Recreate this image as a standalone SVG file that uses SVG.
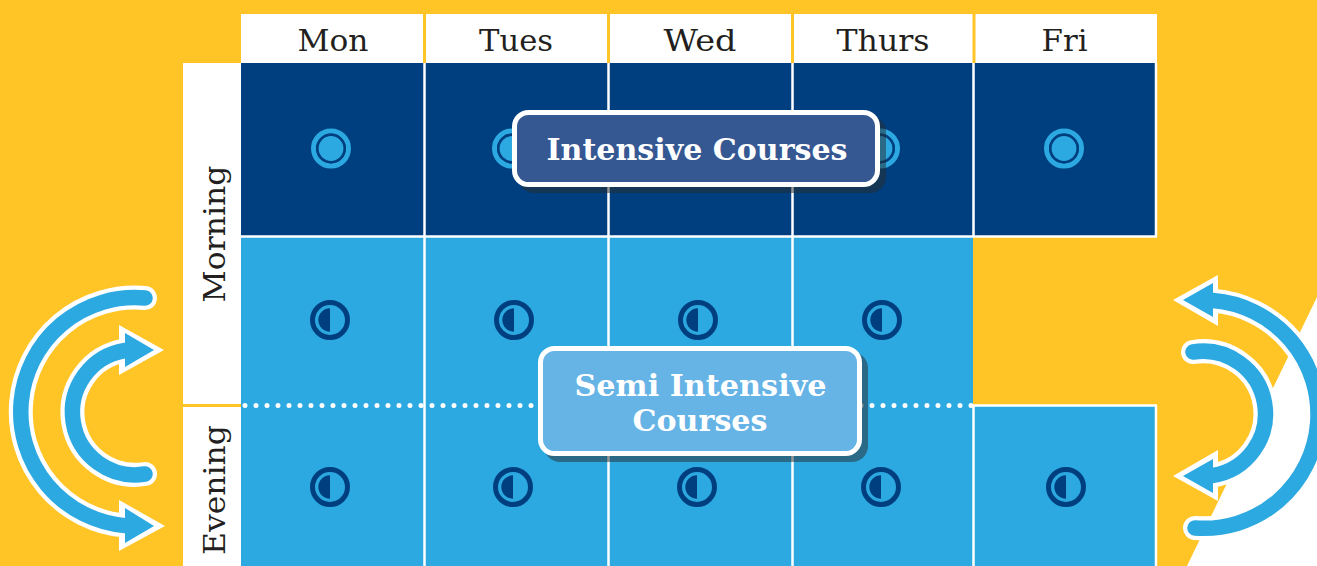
<svg xmlns="http://www.w3.org/2000/svg" width="1317" height="566" viewBox="0 0 1317 566">
<style>
.hd{font:400 30px "DejaVu Serif","Liberation Serif",serif;fill:#231f20;text-anchor:middle}
.lb{font:700 30px "DejaVu Serif","Liberation Serif",serif;fill:#fff;text-anchor:middle}
.dk{fill:#003f7f}.lt{fill:#2ca9e1}
.gl{stroke:#fff;stroke-width:2.5;fill:none}
.yl{stroke:#ffc425;stroke-width:3;fill:none}
.au{fill:none;stroke:#fff;stroke-width:24;stroke-linecap:round}
.ab{fill:none;stroke:#2ca9e1;stroke-width:15.500;stroke-linecap:round}
.hu{fill:#fff}
.hb{fill:#2ca9e1}
.sh{fill:#2a2c2c;fill-opacity:.5}
</style>
<defs>
<g id="full"><circle r="17.500" fill="none" stroke="#2ca9e1" stroke-width="5"/><circle r="13.700" fill="none" stroke="#003f7f" stroke-width="2.600"/><circle r="12.400" fill="#2ca9e1"/></g>
<g id="half"><circle r="17.500" fill="none" stroke="#003f7f" stroke-width="5"/><path d="M0-11.700A11.700 11.700 0 0 0 0 11.700Z" fill="#003f7f"/></g>
</defs>
<rect width="1317" height="566" fill="#ffc425"/>
<polygon points="1317,297 1187,566 1317,566" fill="#fff"/>
<g id="grid">
<rect x="241" y="14" width="916" height="49" fill="#fff"/>
<rect x="183" y="63" width="58" height="503" fill="#fff"/>
<rect x="241" y="63" width="915" height="173" class="dk"/>
<rect x="241" y="236" width="732" height="330" class="lt"/>
<rect x="973" y="405" width="183" height="161" class="lt"/>
<path class="yl" d="M424.500 14V63M608.500 14V63M792.500 14V63M974 14V63M183 405.500H241"/>
<path class="gl" d="M424.500 63V566M608.500 63V566M792.500 63V566M973.500 63V236M973.500 405V566M241 236.500H1157M973 405.500H1157M1156 63V237M1156 405V566"/>
<path d="M245 405.500H972" fill="none" stroke="#fff" stroke-width="5" stroke-linecap="round" stroke-dasharray="0 11"/>
</g>
<g id="headers">
<text class="hd" x="333" y="51" textLength="71" lengthAdjust="spacingAndGlyphs">Mon</text>
<text class="hd" x="516" y="51" textLength="74" lengthAdjust="spacingAndGlyphs">Tues</text>
<text class="hd" x="700" y="51" textLength="73" lengthAdjust="spacingAndGlyphs">Wed</text>
<text class="hd" x="883" y="51" textLength="93" lengthAdjust="spacingAndGlyphs">Thurs</text>
<text class="hd" x="1064.500" y="51" textLength="46" lengthAdjust="spacingAndGlyphs">Fri</text>
<text class="hd" transform="translate(225 234) rotate(-90)" textLength="137" lengthAdjust="spacingAndGlyphs">Morning</text>
<text class="hd" transform="translate(225 490) rotate(-90)" textLength="130" lengthAdjust="spacingAndGlyphs">Evening</text>
</g>
<g id="icons">
<use href="#full" x="331" y="148.500"/><use href="#full" x="512" y="148.500"/><use href="#full" x="880" y="148.500"/><use href="#full" x="1064" y="148.500"/>
<use href="#half" x="330" y="320"/><use href="#half" x="514" y="320"/><use href="#half" x="698" y="320"/><use href="#half" x="882" y="320"/>
<use href="#half" x="330" y="487"/><use href="#half" x="513" y="487"/><use href="#half" x="697" y="487"/><use href="#half" x="881" y="487"/><use href="#half" x="1066" y="487"/>
</g>
<g id="connectors">
<path class="au" d="M145 298A114 114 0 0 0 125 525.600"/>
<polygon class="hu" points="119,500 119,551 165,526"/>
<path class="ab" d="M145 298A114 114 0 0 0 125 525.600"/>
<polygon class="hb" points="125,508 125,543 154,526"/>
<path class="au" d="M145 474A62.500 62.500 0 0 1 125 350.500"/>
<polygon class="hu" points="119,325 119,375 164,350"/>
<path class="ab" d="M145 474A62.500 62.500 0 0 1 125 350.500"/>
<polygon class="hb" points="125,333 125,367 154,350"/>
<path class="au" d="M1195 528A114 114 0 0 0 1213 300.600"/>
<polygon class="hu" points="1218,275 1218,326 1173,300"/>
<path class="ab" d="M1195 528A114 114 0 0 0 1213 300.600"/>
<polygon class="hb" points="1213,283 1213,317 1183,300"/>
<path class="au" d="M1193 352A62 62 0 0 1 1213 475.400"/>
<polygon class="hu" points="1218,450 1218,501 1173,476"/>
<path class="ab" d="M1193 352A62 62 0 0 1 1213 475.400"/>
<polygon class="hb" points="1213,459 1213,493 1183,476"/>
</g>
<g id="intensive">
<rect class="sh" x="518" y="116" width="368" height="77" rx="16"/>
<rect x="514.500" y="112.500" width="363" height="72" rx="14" fill="#355893" stroke="#fff" stroke-width="5"/>
<text class="lb" x="697" y="159.500" textLength="301" lengthAdjust="spacingAndGlyphs">Intensive Courses</text>
</g>
<g id="semi">
<rect class="sh" x="544" y="352" width="324" height="110" rx="16"/>
<rect x="540.500" y="348.500" width="319" height="105" rx="14" fill="#66b3e6" stroke="#fff" stroke-width="5"/>
<text class="lb" x="700.500" y="396" textLength="252" lengthAdjust="spacingAndGlyphs">Semi Intensive</text>
<text class="lb" x="700" y="431" textLength="135" lengthAdjust="spacingAndGlyphs">Courses</text>
</g>
</svg>
